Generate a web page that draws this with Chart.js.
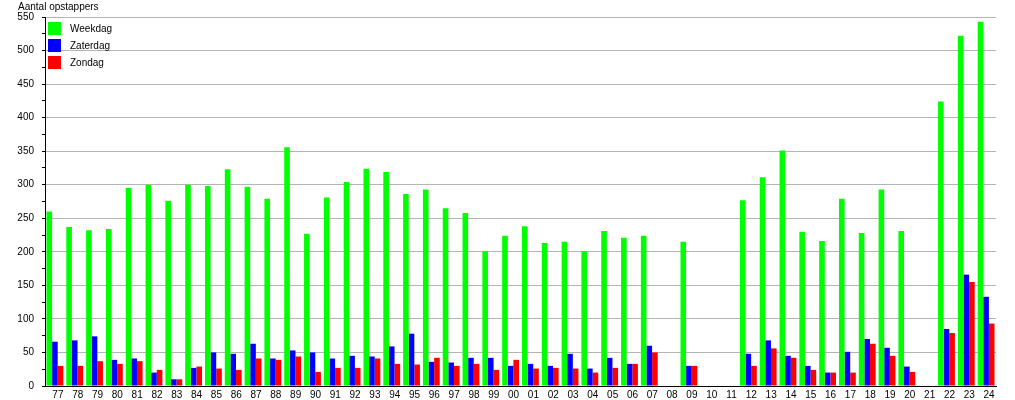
<!DOCTYPE html>
<html>
<head>
<meta charset="utf-8">
<script src="https://cdn.jsdelivr.net/npm/chart.js@4"></script>
<style>
  html, body { margin: 0; padding: 0; background: #fff; }
  #wrap { position: relative; width: 1015px; height: 400px; font-family: "Liberation Sans", Arial, sans-serif; }
  #c { position: absolute; left: 0; top: 0; }
  #ytitle { position: absolute; left: 18px; top: 0px; font-size: 10px; line-height: 13px; color: #000; }
  #legend { position: absolute; left: 48px; top: 22px; font-size: 10px; color: #000; }
  .item { position: relative; height: 17px; }
  .sw { position: absolute; left: 0; top: 0; width: 13px; height: 13px; }
  .lt { position: absolute; left: 22px; top: 0; line-height: 13px; }
</style>
</head>
<body>
<div id="wrap">
  <canvas id="c" width="1015" height="400"></canvas>
  <div id="ytitle">Aantal opstappers</div>
  <div id="legend"></div>
</div>
<script>
const categories = ['77','78','79','80','81','82','83','84','85','86','87','88','89','90','91','92','93','94','95','96','97','98','99',
  '00','01','02','03','04','05','06','07','08','09','10','11','12','13','14','15','16','17','18','19','20','21','22','23','24'];
const seriesNames = ['Weekdag', 'Zaterdag', 'Zondag'];
const seriesColors = ['#00ff00', '#0000ff', '#ff0000'];
const weekdag = [260,237,232,234,295,300,276,300,298,323,297,279,356,227,281,304,324,319,286,293,265,258,201,
  224,238,213,215,201,231,221,224,null,215,null,null,277,311,351,230,216,279,228,293,231,null,424,522,543];
const zaterdag = [66,68,74,39,41,20,10,27,50,48,63,41,53,50,41,45,44,59,78,36,35,42,42,
  30,33,30,48,26,42,33,60,null,30,null,null,48,68,45,30,20,51,70,57,29,null,85,166,133];
const zondag = [30,30,37,33,37,24,10,29,26,24,41,39,44,21,27,27,41,33,32,42,30,33,24,
  39,26,27,26,20,27,33,50,null,30,null,null,30,56,42,24,20,20,63,45,21,null,79,155,93];
const yMin = 0, yMax = 550, yMajor = 50, yMinor = 25;

const seriesData = [weekdag, zaterdag, zondag];

// HTML legend
const legendEl = document.getElementById('legend');
seriesNames.forEach((n, i) => {
  const it = document.createElement('div'); it.className = 'item';
  const sw = document.createElement('div'); sw.className = 'sw'; sw.style.background = seriesColors[i];
  const lt = document.createElement('div'); lt.className = 'lt'; lt.textContent = n;
  it.appendChild(sw); it.appendChild(lt); legendEl.appendChild(it);
});

const FONT = { family: '"Liberation Sans", Arial, sans-serif', size: 10 };

new Chart(document.getElementById('c'), {
  type: 'bar',
  data: {
    labels: categories,
    datasets: seriesNames.map((n, i) => ({
      label: n,
      data: seriesData[i],
      backgroundColor: seriesColors[i],
      borderWidth: 0,
      categoryPercentage: 0.85,
      barPercentage: 1.0
    }))
  },
  options: {
    responsive: false,
    animation: false,
    devicePixelRatio: 1,
    layout: { padding: { top: 17, right: 19, left: 0, bottom: 0 } },
    plugins: { legend: { display: false }, tooltip: { enabled: false }, title: { display: false } },
    scales: {
      x: {
        offset: true,
        grid: { display: false, drawTicks: false },
        border: { display: true, color: '#000', width: 1 },
        ticks: { font: FONT, color: '#000', padding: 3, labelOffset: 3, autoSkip: false, maxRotation: 0 },
        afterFit: (s) => { s.height = 13; }
      },
      y: {
        min: yMin, max: yMax,
        grid: {
          color: (ctx) => (ctx.tick && ctx.tick.value % yMajor === 0) ? '#b4b4b4' : 'rgba(0,0,0,0)',
          tickColor: '#000',
          tickLength: 3,
          drawTicks: true
        },
        border: { display: true, color: '#000', width: 1 },
        ticks: {
          stepSize: yMinor,
          autoSkip: false,
          font: FONT, color: '#000', padding: 8,
          callback: (v) => (v % yMajor === 0 ? v : '')
        },
        afterFit: (s) => { s.width = 45; }
      }
    }
  }
});
</script>
</body>
</html>
